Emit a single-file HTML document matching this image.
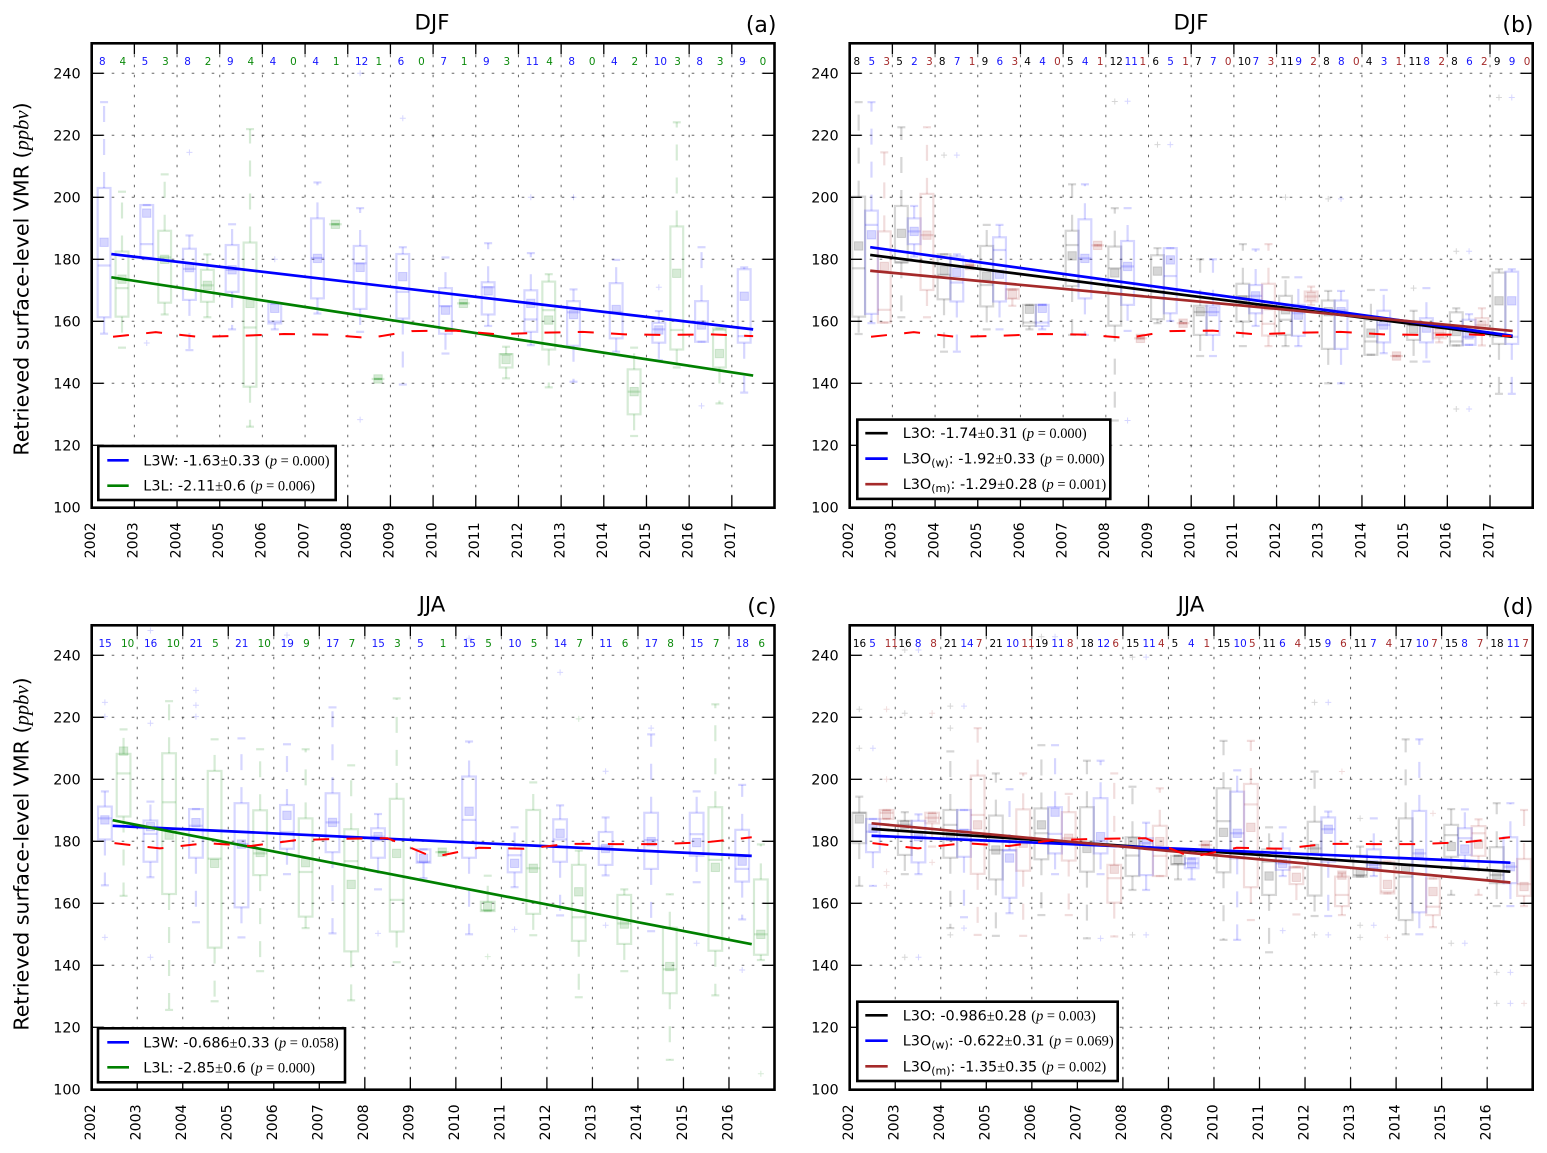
<!DOCTYPE html>
<html lang="en">
<head>
<meta charset="utf-8">
<title>Retrieved surface-level VMR trends</title>
<style>
html,body{margin:0;padding:0;background:#fff;}
svg{display:block;}
text{font-family:"DejaVu Sans","Liberation Sans",sans-serif;fill:#000;}
.math{font-family:"Liberation Serif","DejaVu Serif",serif;}
.lg{font-size:14.4px;}
.ttl{font-size:21.3px;}
.ylab{font-size:20.6px;}
.spine{fill:none;stroke:#000;stroke-width:2.6;}
.lgbox{fill:#fff;stroke:#000;stroke-width:2.6;}
</style>
</head>
<body>
<svg id="figure" xmlns="http://www.w3.org/2000/svg" width="1547" height="1153" viewBox="0 0 1547 1153">
  <rect x="0" y="0" width="1547" height="1153" fill="#fff"/>

  <g id="panel-a"></g>
  <g id="panel-b"></g>
  <g id="panel-c"></g>
  <g id="panel-d"></g>

  <text class="ttl" x="432" y="29.5" text-anchor="middle">DJF</text>
  <text class="ttl" x="1191" y="29.5" text-anchor="middle">DJF</text>
  <text class="ttl" x="432" y="611.5" text-anchor="middle">JJA</text>
  <text class="ttl" x="1191" y="611.5" text-anchor="middle">JJA</text>

  <text class="ttl" x="776.5" y="32" text-anchor="end" style="font-size:22px">(a)</text>
  <text class="ttl" x="1533.5" y="32" text-anchor="end" style="font-size:22px">(b)</text>
  <text class="ttl" x="776.5" y="614" text-anchor="end" style="font-size:22px">(c)</text>
  <text class="ttl" x="1533.5" y="614" text-anchor="end" style="font-size:22px">(d)</text>

  <text class="ylab" transform="translate(28.5,279) rotate(-90)" text-anchor="middle">Retrieved surface-level VMR (<tspan class="math" font-style="italic">ppbv</tspan>)</text>
  <text class="ylab" transform="translate(28.5,854) rotate(-90)" text-anchor="middle">Retrieved surface-level VMR (<tspan class="math" font-style="italic">ppbv</tspan>)</text>

  <g>
    <rect class="lgbox" x="98.3" y="446" width="237.4" height="54"/>
    <line x1="107.3" x2="128.7" y1="460.3" y2="460.3" stroke="#0000ff" stroke-width="2.7"/>
    <text class="lg" x="143.3" y="465.3">L3W: -1.63<tspan class="math">±</tspan>0.33 <tspan class="math">(<tspan font-style="italic">p</tspan> = 0.000)</tspan></text>
    <line x1="107.3" x2="128.7" y1="485.7" y2="485.7" stroke="#008000" stroke-width="2.7"/>
    <text class="lg" x="143.3" y="490.7">L3L: -2.11<tspan class="math">±</tspan>0.6 <tspan class="math">(<tspan font-style="italic">p</tspan> = 0.006)</tspan></text>
  </g>

  <g>
    <rect class="lgbox" x="857.3" y="419.6" width="253" height="79.3"/>
    <line x1="865.3" x2="887.7" y1="433.2" y2="433.2" stroke="#000" stroke-width="2.7"/>
    <text class="lg" x="902.7" y="438.2">L3O: -1.74<tspan class="math">±</tspan>0.31 <tspan class="math">(<tspan font-style="italic">p</tspan> = 0.000)</tspan></text>
    <line x1="865.3" x2="887.7" y1="458.6" y2="458.6" stroke="#0000ff" stroke-width="2.7"/>
    <text class="lg" x="902.7" y="463.6">L3O<tspan dy="3" font-size="11">(w)</tspan><tspan dy="-3">: -1.92</tspan><tspan class="math">±</tspan>0.33 <tspan class="math">(<tspan font-style="italic">p</tspan> = 0.000)</tspan></text>
    <line x1="865.3" x2="887.7" y1="484.2" y2="484.2" stroke="#a52a2a" stroke-width="2.7"/>
    <text class="lg" x="902.7" y="489.2">L3O<tspan dy="3" font-size="11">(m)</tspan><tspan dy="-3">: -1.29</tspan><tspan class="math">±</tspan>0.28 <tspan class="math">(<tspan font-style="italic">p</tspan> = 0.001)</tspan></text>
  </g>

  <g>
    <rect class="lgbox" x="98" y="1028.3" width="247" height="54"/>
    <line x1="107.3" x2="129" y1="1042.3" y2="1042.3" stroke="#0000ff" stroke-width="2.7"/>
    <text class="lg" x="143.3" y="1047.3">L3W: -0.686<tspan class="math">±</tspan>0.33 <tspan class="math">(<tspan font-style="italic">p</tspan> = 0.058)</tspan></text>
    <line x1="107.3" x2="129" y1="1067.3" y2="1067.3" stroke="#008000" stroke-width="2.7"/>
    <text class="lg" x="143.3" y="1072.3">L3L: -2.85<tspan class="math">±</tspan>0.6 <tspan class="math">(<tspan font-style="italic">p</tspan> = 0.000)</tspan></text>
  </g>

  <g>
    <rect class="lgbox" x="857.3" y="1001.7" width="260.4" height="79.3"/>
    <line x1="865.3" x2="887.7" y1="1015.3" y2="1015.3" stroke="#000" stroke-width="2.7"/>
    <text class="lg" x="902.7" y="1020.3">L3O: -0.986<tspan class="math">±</tspan>0.28 <tspan class="math">(<tspan font-style="italic">p</tspan> = 0.003)</tspan></text>
    <line x1="865.3" x2="887.7" y1="1040.7" y2="1040.7" stroke="#0000ff" stroke-width="2.7"/>
    <text class="lg" x="902.7" y="1045.7">L3O<tspan dy="3" font-size="11">(w)</tspan><tspan dy="-3">: -0.622</tspan><tspan class="math">±</tspan>0.31 <tspan class="math">(<tspan font-style="italic">p</tspan> = 0.069)</tspan></text>
    <line x1="865.3" x2="887.7" y1="1066.3" y2="1066.3" stroke="#a52a2a" stroke-width="2.7"/>
    <text class="lg" x="902.7" y="1071.3">L3O<tspan dy="3" font-size="11">(m)</tspan><tspan dy="-3">: -1.35</tspan><tspan class="math">±</tspan>0.35 <tspan class="math">(<tspan font-style="italic">p</tspan> = 0.002)</tspan></text>
  </g>
</svg>

<script>
/* ---------- categories and tick labels ---------- */
const yTickValues = [100,120,140,160,180,200,220,240];
const yearsLong = [2002,2003,2004,2005,2006,2007,2008,2009,2010,2011,2012,2013,2014,2015,2016,2017];
const yearsShort = [2002,2003,2004,2005,2006,2007,2008,2009,2010,2011,2012,2013,2014,2015,2016];

/* ---------- reference (dashed red) series, one value per year ---------- */
const referenceDJF = [155,156.5,155,155.3,155.9,155.7,154.6,156.85,157,155.8,156.3,156.6,155.8,155.6,155.8,155.2];
const referenceJJA = [179.4,177.7,179.4,178.5,180.4,180.8,181,174.9,177.9,177.6,179.2,179.1,179.1,179.7,181.3];

/* ---------- trend end values [start, end] ---------- */
const trendAL3W = [181.7,157.4];
const trendAL3L = [174.2,142.5];
const trendBL3O = [181.4,155];
const trendBL3OW = [183.9,155.3];
const trendBL3OM = [176.3,156.9];
const trendCL3W = [185,175.3];
const trendCL3L = [186.8,146.8];
const trendDL3O = [184,170.2];
const trendDL3OW = [181.8,173.1];
const trendDL3OM = [185.8,166.7];

/* ---------- sample counts printed along the top ---------- */
const countsAL3W = [8,5,8,9,4,4,12,6,7,9,11,8,4,10,8,9];
const countsAL3L = [4,3,2,4,0,1,1,0,1,3,4,0,2,3,3,0];
const countsBL3O = [8,5,8,9,4,5,12,6,7,10,11,8,4,11,8,9];
const countsBL3OW = [5,2,7,6,4,4,11,5,7,7,9,8,3,8,6,9];
const countsBL3OM = [3,3,1,3,0,1,1,1,0,3,2,0,1,2,2,0];
const countsCL3W = [15,16,21,21,19,17,15,5,15,10,14,11,17,15,18];
const countsCL3L = [10,10,5,10,9,7,3,1,5,5,7,6,8,7,6];
const countsDL3O = [16,16,21,21,19,18,15,5,15,11,15,11,17,15,18];
const countsDL3OW = [5,8,14,10,11,12,11,4,10,6,9,7,10,8,11];
const countsDL3OM = [11,8,7,11,8,6,4,1,5,4,6,4,7,7,7];

/* ---------- box statistics: [whiskerLow, q1, median, q3, whiskerHigh, mean, optional fliers] ---------- */
const boxesAL3W = [
[156,161.3,178,203,230.7,185.5],
[180,180.5,184.9,197.5,197.5,194.9,[153]],
[150.7,166.9,176.9,183.4,187.7,177.3,[214.5]],
[157.4,169.5,176.6,184.6,191.3,176.6],
[157.4,159.3,159.9,165.8,166,164.2,[180]],
[162.5,167.4,180.4,193.2,204.8,180.3],
[156.6,164,178.7,184.3,196.5,177.4,[240,128.3]],
[139.6,160.9,169.5,181.7,183.9,174.4,[225.5]],
[149.6,156,164.9,170.7,180.6,163.6],
[158.5,162.2,171,172.6,185.2,169.8],
[152.3,156.6,160.6,170,182,165.8,[200]],
[140.5,152.1,162.9,166.5,170.3,162.2,[200]],
[150.2,154.5,163,172.3,179.8,163.8],
[147.5,153.1,157.4,159.5,163.3,157.2,[171]],
[153.4,153.4,159.6,166.5,183.9,158.8,[132.7]],
[137,153.1,155.2,176.8,177.4,168.1,[243.8]]
];
const boxesAL3L = [
[151.5,161.5,170.7,182.5,201.8,173.6],
[162.2,166,180.6,189.2,207.4,180],
[161.3,166.3,171.6,176.6,181.6,171.6],
[126,138.9,158,185.4,222,165.8],
null,
[191.3,191.3,191.3,191.3,191.3,191.3],
[141.4,141.4,141.4,141.4,141.4,141.4],
null,
[165.8,165.8,165.8,165.8,165.8,165.8],
[141.6,145.1,149.4,149.4,151.8,147.7],
[138.7,150.9,163.6,172.8,175.2,160.4],
null,
[123,130,137.3,144.5,151.5,137.3],
[145.1,150.9,157.2,190.6,224.2,175.5],
[133.5,145.1,157.2,157.7,157.7,149.6],
null
];
const boxesBL3O = [
[155.9,161.5,177.1,200.2,230.7,184.3],
[161.3,179,179,197.2,222.6,188.4],
[150.2,167.1,175,181.6,181.6,176.4,[213.6]],
[157.4,164.8,171.7,184.3,191.1,174.6],
[157.4,158.5,159.6,165.3,165.3,163.9],
[155.6,171.4,184.6,189.2,204.2,181.1],
[128,158.6,177.1,184.1,196.5,175.6,[230.9]],
[159.4,160.7,169.6,181.3,183.6,176.2,[217]],
[148.8,155.6,163,165,180,163.1],
[152,159.9,168,172.1,184.9,166.9],
[152,155.6,160.5,168.2,174.2,163.7,[200]],
[140,151.1,163.5,166.7,169.8,163.1,[199.5]],
[149.2,149.2,153.5,160.5,170.1,156.2],
[147,154,158.8,158.8,163.4,157.5,[170.7]],
[152.2,152.2,153.5,162.9,164.2,156.7,[182.6,131.7]],
[136.6,152.7,155,175.7,176.8,166.6,[232.2]]
];
const boxesBL3OW = [
[159.4,162.4,191.1,195.7,230.7,187.9],
[180.9,184.9,189,193.2,197.2,189],
[150.2,166.4,172.5,180.9,181.6,175.8,[213.6]],
[157.4,166.4,183,187.1,191.1,175.2],
[157.4,158.5,159.6,165.3,165.3,164.2],
[155.6,167.4,180.3,192.9,204.2,180.3],
[156.9,165.3,177.7,185.9,196.5,177.7,[231,128]],
[160.1,162.6,174.6,183.6,183.6,179.8,[217]],
[148.8,155.6,163,165,180,163.1],
[158.5,162.6,168.2,171.7,183.2,168.2],
[152,155.3,162.6,165.3,174.2,162],
[140,151.1,163.5,166.7,169.8,163.1,[199.5]],
[149.7,153.2,158.8,163.4,170.1,158.8],
[147,153.2,158.8,161,170.7,157.8],
[152.4,152.4,155,160.5,162.3,155.6,[182.6,131.7]],
[136.6,152.7,155,176,176.8,166.6,[232.2]]
];
const boxesBL3OM = [
[159.6,159.6,163.7,189,214.5,177.7],
[161.3,170.1,187.8,201.1,222.6,187.8],
[178,178,178,178,178,178],
[165,167.3,170.3,170.3,170.3,168.7],
null,
[184.5,184.5,184.5,184.5,184.5,184.5],
[154.5,154.5,154.5,154.5,154.5,154.5],
[159.4,159.4,159.4,159.4,159.4,159.4],
null,
[152,155.4,159.2,172.1,184.9,165],
[165.3,166.4,168,169.6,171.2,168],
null,
[148.8,148.8,148.8,148.8,148.8,148.8],
[153.2,154.5,156.2,157.8,157.8,156.2],
[152.2,155.6,158.8,161,164.2,158.8],
null
];
const boxesCL3W = [
[165.8,180.6,187.4,191.2,196.1,186.9,[224.8,220.2,149]],
[168.4,173.4,182.4,186.7,192.8,184.7,[248,218.1,142.6]],
[153.9,174.7,185,190.4,190.4,186,[228.7,223.9,220.2]],
[149,158.7,179.1,192.3,213.2,179.1],
[169.4,177.6,183,191.7,211.3,188.4,[246.5]],
[150.3,176.5,186.1,195.5,223.2,186.1],
[164.5,174.7,181.5,184.2,188.8,181.5,[150.3]],
[168.1,173.1,173.4,177.4,177.4,174.5],
[150,174.7,186.9,200.9,212.2,189.7,[245.5]],
[165.2,170,175.5,177.7,184.5,172.9,[151.6]],
[156.1,173.4,180.6,187.1,191.6,182.6,[234.5]],
[169,172.4,178.3,183,187.7,177.7,[202.6,152.9]],
[151,171.1,180.4,189.2,214.5,179.9,[216.5]],
[166.8,175.3,182.3,189.2,196.1,179.6,[147.1]],
[154.8,167,171.1,183.7,198.2,173.6,[138.5]]
];
const boxesCL3L = [
[162.4,188,201.9,208.2,216.1,209.1],
[125.6,163,192.6,208.4,225.2,182],
[128.4,145.7,174.4,202.7,212.9,172.9],
[138.1,169.1,176.1,190,209.7,176.4],
[152,155.7,170.1,187.4,209.7,173.1],
[128.7,144.5,173.6,183.9,204.5,166.1],
[141,150.9,161.1,193.7,226.1,176.1],
[176.5,176.5,176.5,176.5,176.5,176.5],
[157.5,157.5,157.8,160.5,168.9,159.1,[142.8]],
[149.7,156.6,171.3,190.1,199,171.3],
[129.7,147.9,155.5,172.4,177,163.7,[219.5]],
[138.1,146.9,153.5,162.7,164.5,153.3],
[109.5,131,138.7,152.1,162.9,139.6],
[130.3,144.7,174,191,224.2,171.6],
[141.7,143.4,150,167.7,179,150,[105]]
];
const boxesDL3O = [
[165.6,179.4,189.2,189.2,194.4,187.2,[222.6,210]],
[169.4,175.6,185.3,186.6,189.4,185.3,[241.7,221.3,142.6]],
[152,174.7,185.3,190.1,209,181.5,[223.6,216.5,149.8]],
[149.5,167.7,177.2,188.3,201.9,177.2],
[156.2,174.2,182.6,190.6,211,185.3,[246]],
[148.7,170.2,179.9,191,206,177.7],
[164.3,168.8,175.4,181.3,197.6,179.9,[239.4,149.8]],
[167.7,172.6,172.6,175.3,175.3,174.2],
[148.2,170,186.5,197.1,212.4,182.9],
[144.2,162.7,173.4,177.4,184.5,168.8],
[155.9,162.5,177.7,186.3,202.5,177.7,[224.8,149.8]],
[168.6,168.6,169.1,175.4,178.3,170.2,[187.4,152.9,149]],
[150,154.6,168.6,187.4,212.9,171.3],
[162.7,175,182,185.3,190.4,178.3,[147.1]],
[159.1,166.5,169.1,178.1,192.3,169.1,[137.7,127.7]]
];
const boxesDL3OW = [
[165.6,176.5,183.1,187.2,187.2,184.2,[210]],
[169.4,173.2,181.5,186.6,188.7,181.5,[241.7,142.6]],
[155.5,175,183.6,190.1,190.1,182.6,[223.6,152]],
[156.8,161.8,177,177.2,196.8,174.6],
[169.4,176.1,182.4,191,211,189.4,[246]],
[169.4,176.1,179.9,193.9,206,181.5,[148.7]],
[164.3,169.1,179.4,181,186,179.4,[239.4,149.8]],
[167.7,171.3,172.9,174.5,174.5,172.9],
[148.2,174.5,182.6,196,202.9,182.6],
[168.8,170.8,172.9,177.7,184.5,172.9,[151.2]],
[155.9,173.4,183.9,187.7,189.6,183.9,[224.8,149.8]],
[168.8,171.3,172.4,177.4,187.4,172.4,[152.9]],
[150,157.1,176.1,189.8,212.9,176.1],
[171.8,175.6,181,184.2,190.3,177.5,[147.1]],
[159.1,166.5,171.8,181.3,192.3,171.8,[137.7,127.7]]
];
const boxesDL3OM = [
[187.2,187.2,189.2,190.1,190.1,188.7,[222.6,200,170.2,165.8]],
[178.3,185.8,187.6,189.2,189.2,187.6,[221.3,173.2]],
[149.8,169.5,188.5,201.2,216.5,185.3],
[149.5,170.5,179.4,190.3,201.9,179.4],
[156.2,173.8,181,189.4,195.3,181],
[149.3,160.2,168.1,172.4,201.9,171],
[168.8,168.8,175.3,185,197.1,179.9],
[178.8,178.8,178.8,178.8,178.8,178.8],
[154.6,165.2,191.9,198.5,212.4,184.5],
[156.4,166.2,171.6,171.6,171.8,168.4],
[156.2,159.1,162.7,168.6,169.7,169.1,[202.5]],
[163.2,163.2,163.8,173.4,173.4,166.1,[149]],
[152.3,156.2,158.9,168,168,163.8,[189]],
[162.7,175.3,182.6,184.9,187.1,179.1],
[159.1,162.4,166.2,174.3,190.1,165.4,[127.7]]
];

/* ---------- styling and layout (no data) ---------- */
const BLUE = '#0000ff', GREEN = '#008000', BLACK = '#000000', BROWN = '#a52a2a', RED = '#ff0000';
const NS = 'http://www.w3.org/2000/svg';

function mk(parent, tag, attrs, txt) {
  const el = document.createElementNS(NS, tag);
  for (const k in attrs) el.setAttribute(k, attrs[k]);
  if (txt !== undefined) el.textContent = txt;
  parent.appendChild(el);
  return el;
}

function makeAxes(cfg) {
  return {
    x: function (year) { return cfg.left + (year - 2002) * (cfg.right - cfg.left) / (cfg.years.length); },
    y: function (v) { return cfg.y240 + (240 - v) * 3.1; }
  };
}

function drawGridAndFrame(g, cfg, ax) {
  const top = ax.y(250), bottom = ax.y(100);
  yTickValues.forEach(function (v) {
    const grid = mk(g, 'line', {x1: cfg.left, x2: cfg.right, y1: ax.y(v), y2: ax.y(v), stroke: '#333', 'stroke-width': 1, 'stroke-dasharray': '2.6 7.4', 'stroke-opacity': 0.75});
    
    
  });
  cfg.years.forEach(function (yr) {
    const grid = mk(g, 'line', {x1: ax.x(yr), x2: ax.x(yr), y1: bottom, y2: top, stroke: '#333', 'stroke-width': 1, 'stroke-dasharray': '2.6 7.4', 'stroke-opacity': 0.75});
    
    
  });
}

function drawTicks(g, cfg, ax) {
  const top = ax.y(250), bottom = ax.y(100);
  yTickValues.forEach(function (v) {
    const left = mk(g, 'line', {x1: cfg.left, x2: cfg.left + 12, y1: ax.y(v), y2: ax.y(v), stroke: '#000', 'stroke-width': 1.3});
    
    
    const right = mk(g, 'line', {x1: cfg.right, x2: cfg.right - 12, y1: ax.y(v), y2: ax.y(v), stroke: '#000', 'stroke-width': 1.3});
    
    
    const lab = mk(g, 'text', {x: cfg.left - 11, y: ax.y(v) + 5.3, 'text-anchor': 'end', 'font-size': 14.4}, String(v));
    
    
  });
  cfg.years.forEach(function (yr) {
    const b = mk(g, 'line', {x1: ax.x(yr), x2: ax.x(yr), y1: bottom, y2: bottom - 12, stroke: '#000', 'stroke-width': 1.3});
    
    
    const t = mk(g, 'line', {x1: ax.x(yr), x2: ax.x(yr), y1: top, y2: top + 12, stroke: '#000', 'stroke-width': 1.3});
    
    
    const lab = mk(g, 'text', {transform: 'translate(' + (ax.x(yr) + 3.3) + ',' + (bottom + 15) + ') rotate(-90)', 'text-anchor': 'end', 'font-size': 14.2}, String(yr));
    
    
  });
  const frame = mk(g, 'rect', {x: cfg.left, y: top + 1, width: cfg.right - cfg.left, height: bottom - top - 0.6, 'class': 'spine'});
  
  
}

function drawBoxSeries(g, cfg, ax, series) {
  const hw = cfg.boxWidth / 2, capHalf = 4, op = 0.16;
  series.boxes.forEach(function (b, i) {
    if (!b) return;
    const xc = ax.x(cfg.years[i] + series.pos);
    const lo = ax.y(b[0]), q1 = ax.y(b[1]), med = ax.y(b[2]), q3 = ax.y(b[3]), hi = ax.y(b[4]), mean = ax.y(b[5]);
    const common = {stroke: series.color, 'stroke-opacity': op, 'stroke-width': 2.2, fill: 'none'};
    const group = mk(g, 'g', {});
    
    

    const body = mk(group, 'rect', Object.assign({x: xc - hw, y: q3, width: 2 * hw, height: Math.max(q1 - q3, 0)}, common));
    
    

    const median = mk(group, 'line', Object.assign({x1: xc - hw, x2: xc + hw, y1: med, y2: med}, common));
    
    

    const wUp = mk(group, 'line', Object.assign({x1: xc, x2: xc, y1: q3, y2: hi, 'stroke-dasharray': '16 17'}, common));
    
    

    const wLo = mk(group, 'line', Object.assign({x1: xc, x2: xc, y1: q1, y2: lo, 'stroke-dasharray': '16 17'}, common));
    
    

    const capUp = mk(group, 'line', Object.assign({x1: xc - capHalf, x2: xc + capHalf, y1: hi, y2: hi}, common));
    
    

    const capLo = mk(group, 'line', Object.assign({x1: xc - capHalf, x2: xc + capHalf, y1: lo, y2: lo}, common));
    
    

    const meanMark = mk(group, 'rect', {x: xc - 4.2, y: mean - 4.2, width: 8.4, height: 8.4, fill: series.color, 'fill-opacity': 0.16, stroke: series.color, 'stroke-opacity': 0.14, 'stroke-width': 1});
    
    

    (b[6] || []).forEach(function (f) {
      const fy = ax.y(f);
      const flier = mk(group, 'path', {d: 'M' + (xc - 3) + ' ' + fy + 'H' + (xc + 3) + 'M' + xc + ' ' + (fy - 3) + 'V' + (fy + 3), stroke: series.color, 'stroke-opacity': op, 'stroke-width': 1, fill: 'none'});
      
      
    });
  });
}

function drawCounts(g, cfg, ax, series) {
  series.counts.forEach(function (n, i) {
    const lab = mk(g, 'text', {x: ax.x(cfg.years[i] + series.labelPos), y: ax.y(250) + 22.5, 'font-size': 10.4, style: 'fill:' + series.labelColor}, String(n));
    
    
  });
}

function drawTrend(g, cfg, ax, series) {
  const t = mk(g, 'line', {x1: ax.x(cfg.trendStart), x2: ax.x(cfg.trendEnd), y1: ax.y(series.trend[0]), y2: ax.y(series.trend[1]), stroke: series.color, 'stroke-width': 2.7});
  
  
}

function drawReference(g, cfg, ax) {
  const pts = cfg.reference.map(function (v, i) { return ax.x(cfg.years[i] + 0.5) + ',' + ax.y(v); }).join(' ');
  const r = mk(g, 'polyline', {points: pts, fill: 'none', stroke: RED, 'stroke-width': 2, 'stroke-dasharray': '16 17.3'});
  
  
}

const panels = [
  {id: 'panel-a', left: 91.7, right: 774.5, y240: 73.3, years: yearsLong, boxWidth: 12.8, reference: referenceDJF, trendStart: 2002.46, trendEnd: 2017.5, series: [
    {key: 'l3w', boxes: boxesAL3W, counts: countsAL3W, trend: trendAL3W, color: BLUE, labelColor: '#1414ff', pos: 0.29, labelPos: 0.17},
    {key: 'l3l', boxes: boxesAL3L, counts: countsAL3L, trend: trendAL3L, color: GREEN, labelColor: '#0a8a0a', pos: 0.71, labelPos: 0.65}
  ]},
  {id: 'panel-b', left: 849.7, right: 1532.7, y240: 73.3, years: yearsLong, boxWidth: 12.8, reference: referenceDJF, trendStart: 2002.48, trendEnd: 2017.53, series: [
    {key: 'l3o', boxes: boxesBL3O, counts: countsBL3O, trend: trendBL3O, color: BLACK, labelColor: '#000', pos: 0.21, labelPos: 0.09},
    {key: 'l3o-w', boxes: boxesBL3OW, counts: countsBL3OW, trend: trendBL3OW, color: BLUE, labelColor: '#1414ff', pos: 0.51, labelPos: 0.44},
    {key: 'l3o-m', boxes: boxesBL3OM, counts: countsBL3OM, trend: trendBL3OM, color: BROWN, labelColor: '#a52a2a', pos: 0.81, labelPos: 0.79}
  ]},
  {id: 'panel-c', left: 91.7, right: 774.5, y240: 655.3, years: yearsShort, boxWidth: 13.7, reference: referenceJJA, trendStart: 2002.46, trendEnd: 2016.5, series: [
    {key: 'l3w', boxes: boxesCL3W, counts: countsCL3W, trend: trendCL3W, color: BLUE, labelColor: '#1414ff', pos: 0.29, labelPos: 0.15},
    {key: 'l3l', boxes: boxesCL3L, counts: countsCL3L, trend: trendCL3L, color: GREEN, labelColor: '#0a8a0a', pos: 0.7, labelPos: 0.645}
  ]},
  {id: 'panel-d', left: 849.7, right: 1532.7, y240: 655.3, years: yearsShort, boxWidth: 13.7, reference: referenceJJA, trendStart: 2002.48, trendEnd: 2016.51, series: [
    {key: 'l3o', boxes: boxesDL3O, counts: countsDL3O, trend: trendDL3O, color: BLACK, labelColor: '#000', pos: 0.21, labelPos: 0.07},
    {key: 'l3o-w', boxes: boxesDL3OW, counts: countsDL3OW, trend: trendDL3OW, color: BLUE, labelColor: '#1414ff', pos: 0.51, labelPos: 0.43},
    {key: 'l3o-m', boxes: boxesDL3OM, counts: countsDL3OM, trend: trendDL3OM, color: BROWN, labelColor: '#a52a2a', pos: 0.81, labelPos: 0.77}
  ]}
];

panels.forEach(function (cfg) {
  const g = document.getElementById(cfg.id);
  const ax = makeAxes(cfg);
  drawGridAndFrame(g, cfg, ax);
  cfg.series.forEach(function (s) { drawBoxSeries(g, cfg, ax, s); });
  cfg.series.forEach(function (s) { drawCounts(g, cfg, ax, s); });
  cfg.series.forEach(function (s) { drawTrend(g, cfg, ax, s); });
  drawReference(g, cfg, ax);
  drawTicks(g, cfg, ax);
});
</script>
</body>
</html>
